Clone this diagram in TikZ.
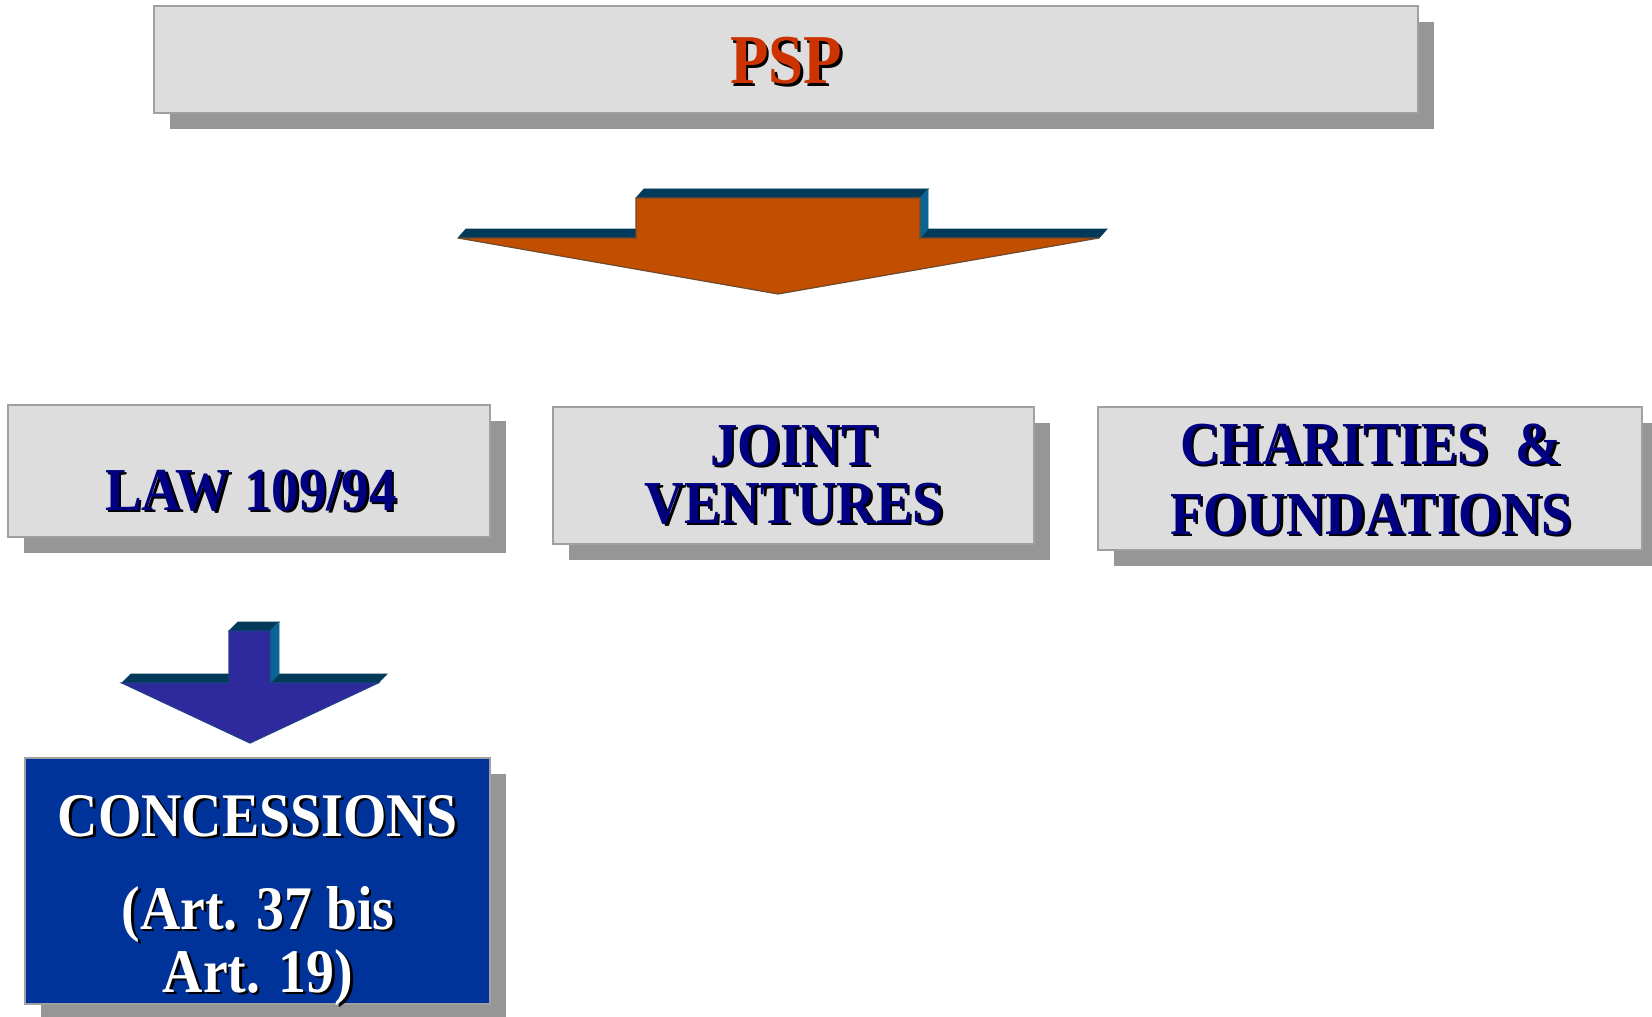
\documentclass[tikz,border=0pt]{standalone}
\usepackage{fontspec}
\setmainfont{Liberation Serif}[FakeStretch=0.9]
\usetikzlibrary{shadows}

\definecolor{boxfill}{HTML}{DDDDDD}
\definecolor{boxline}{HTML}{A0A0A0}
\definecolor{shadowgray}{HTML}{969696}
\definecolor{navytext}{HTML}{000080}
\definecolor{psptext}{HTML}{CC3300}
\definecolor{concfill}{HTML}{003399}
\definecolor{arrowtop}{HTML}{033A5A}
\definecolor{arrowside}{HTML}{0A6494}
\definecolor{bigfront}{HTML}{C24E00}
\definecolor{bigline}{HTML}{6E4A2E}
\definecolor{smallfront}{HTML}{2E2A9E}
\definecolor{smallline}{HTML}{1E3F8A}

% one line of text with its dark shadow
\newcommand\shline[4]{%
  \node[#2, text=black, xshift=1.3pt, yshift=-1.3pt] (#1-sh) at (#3) {#4};
  \node[#2] (#1) at (#3) {#4};}

\begin{document}
\begin{tikzpicture}[x=0.5pt, y=-0.5pt,
  box/.style={draw=boxline, line width=1pt, fill=boxfill, inner sep=0pt,
    drop shadow={shadow xshift=8pt, shadow yshift=-8pt, fill=shadowgray, opacity=1}},
  txt/.style={font=\bfseries\fontsize{30.5}{30.5}\selectfont, text=navytext, inner sep=0pt,
    text height=0.7em, text depth=0.18em, anchor=base},
  wtxt/.style={txt, font=\bfseries\fontsize{31}{31}\selectfont, text=white},
  ptxt/.style={txt, font=\bfseries\fontsize{35}{35}\selectfont, text=psptext}]
				\useasboundingbox (0,0) rectangle (1652,1016);
				% boxes
				\node[box, minimum width=632pt, minimum height=53.5pt] (psp) at (786,59.5) {};
				\node[box, minimum width=241pt, minimum height=66pt] (law) at (249,471) {};
				\node[box, minimum width=240.5pt, minimum height=68.5pt] (joint) at (793.5,475.5) {};
				\node[box, minimum width=272pt, minimum height=71.5pt] (charity) at (1370,478.5) {};
				\node[box, fill=concfill, minimum width=232.5pt, minimum height=123pt] (conc) at (257.5,881) {};
				% big arrow
				\filldraw[arrowtop, draw=arrowtop] (458,238) -- (466,229) -- (644,229) -- (636,238) -- cycle;
				\filldraw[arrowtop, draw=arrowtop] (636,198) -- (644,189) -- (928,189) -- (920,198) -- cycle;
				\filldraw[arrowtop, draw=arrowtop] (920,238) -- (928,229) -- (1107,229) -- (1099,238) -- cycle;
				\filldraw[arrowside, draw=arrowside] (920,198) -- (928,189) -- (928,229) -- (920,238) -- cycle;
				\filldraw[fill=bigfront, draw=bigline, line width=0.6pt] (458,238) -- (636,238) -- (636,198) -- (920,198) -- (920,238) -- (1099,238) -- (778,294) -- cycle;
				% small arrow
				\filldraw[arrowtop, draw=arrowtop] (122,683) -- (131,674) -- (238,674) -- (229,683) -- cycle;
				\filldraw[arrowtop, draw=arrowtop] (229,631) -- (238,622) -- (279,622) -- (270,631) -- cycle;
				\filldraw[arrowtop, draw=arrowtop] (270,683) -- (279,674) -- (387,674) -- (378,683) -- cycle;
				\filldraw[arrowside, draw=arrowside] (270,631) -- (279,622) -- (279,674) -- (270,683) -- cycle;
				\filldraw[fill=smallfront, draw=smallline, line width=0.6pt] (122,683) -- (229,683) -- (229,631) -- (270,631) -- (270,683) -- (378,683) -- (250,743) -- cycle;
				% texts
				\shline{psp-t}{ptxt}{786,84}{PSP}
				\shline{law-t}{txt}{251,510}{LAW 109/94}
				\shline{joint-t1}{txt}{794,465}{JOINT}
				\shline{joint-t2}{txt}{794,523}{VENTURES}
				\shline{charity-t1}{txt}{1371,464}{CHARITIES\ \ \&}
				\shline{charity-t2}{txt}{1371,534}{FOUNDATIONS}
				\shline{conc-t1}{wtxt}{258,836}{CONCESSIONS}
				\shline{conc-t2}{wtxt}{258,929}{(Art. 37 bis}
				\shline{conc-t3}{wtxt}{258,992}{Art. 19)}
			\end{tikzpicture}
\end{document}
